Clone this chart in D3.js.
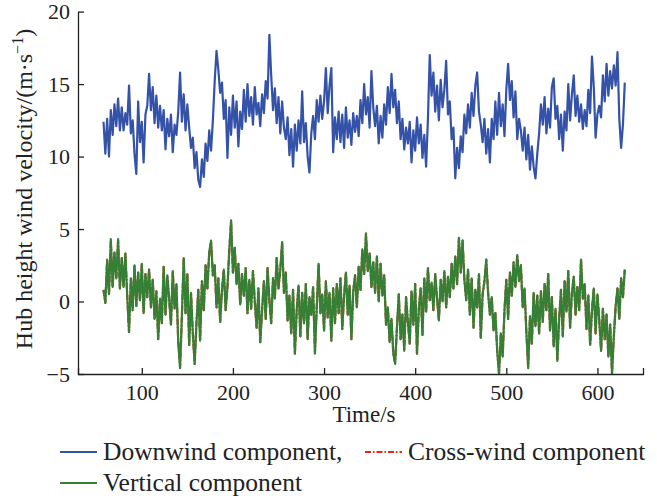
<!DOCTYPE html>
<html>
<head>
<meta charset="utf-8">
<script src="https://cdn.jsdelivr.net/npm/d3@7"></script>
<style>
  body { margin: 0; background: #fff; }
  svg text { font-family: "Liberation Serif", "DejaVu Serif", serif; fill: #222; }
  .axis path, .axis line { stroke: #222; stroke-width: 1.3; }
</style>
</head>
<body>
<div id="chart"></div>
<script>
// sampled every 2 s, t = 58 .. 630
const time = d3.range(58, 631, 2);

const downwind = [
  12.4, 10.2, 12.6, 10.0, 13.2, 11.5, 13.6, 12.1, 14.0, 11.8,
  13.4, 11.8, 13.0, 12.2, 14.9, 11.6, 12.5, 10.2, 8.8, 13.8,
  11.0, 12.4, 9.6, 12.9, 13.5, 15.7, 13.2, 14.8, 12.3, 14.2,
  12.0, 13.5, 11.8, 13.2, 10.5, 12.6, 11.4, 12.9, 10.3, 12.2,
  11.5, 13.1, 15.8, 12.4, 14.3, 11.8, 13.6, 12.0, 10.6, 11.3,
  9.2, 10.3, 8.4, 7.9, 9.8, 8.6, 10.9, 9.7, 11.8, 10.4,
  12.5, 15.2, 17.3, 16.0, 14.4, 15.1, 12.6, 13.9, 9.9, 13.4,
  11.5, 14.2, 12.0, 13.8, 10.7, 13.1, 11.9, 14.6, 12.4, 15.0,
  12.8, 14.1, 12.2, 14.8, 12.9, 13.7, 12.1, 14.3, 13.0, 15.2,
  14.0, 18.4, 15.6, 13.2, 14.7, 12.3, 14.1, 11.6, 13.8, 12.0,
  11.2, 12.7, 10.1, 11.9, 9.3, 12.2, 10.4, 12.5, 10.9, 14.5,
  11.0, 12.3, 10.0, 8.9, 11.6, 12.8, 11.2, 13.9, 12.4, 14.2,
  12.6, 13.8, 16.1, 13.0, 14.9, 16.1, 10.3, 12.7, 11.2, 13.1,
  11.0, 12.9, 10.6, 13.4, 11.3, 12.5, 10.8, 13.0, 11.7, 12.8,
  11.4, 13.9, 12.3, 15.0, 12.9, 14.1, 12.0, 15.9, 13.4, 12.1,
  13.5, 10.9, 12.8, 11.3, 13.6, 12.2, 14.8, 13.0, 15.7, 13.4,
  14.6, 12.3, 13.8, 11.2, 12.6, 10.5, 12.0, 10.9, 12.4, 9.6,
  11.8, 10.4, 12.7, 10.9, 12.2, 9.9, 11.5, 9.3, 12.6, 17.0,
  14.2, 15.8, 13.1, 14.9, 12.5, 15.3, 13.4, 14.6, 16.6, 12.9,
  13.8, 11.2, 12.0, 8.5, 10.6, 9.2, 11.4, 10.3, 12.9, 11.6,
  13.6, 12.0, 14.4, 12.8, 14.9, 15.8, 13.1, 12.2, 11.0, 12.6,
  10.2, 11.9, 9.6, 12.6, 11.2, 13.8, 11.5, 14.4, 12.1, 13.6,
  11.4, 14.6, 16.4, 13.9, 15.2, 12.7, 14.5, 11.2, 12.6, 11.8,
  10.4, 12.0, 9.8, 11.5, 9.1, 10.7, 9.3, 8.5, 10.2, 11.6,
  13.6, 12.2, 14.1, 11.6, 13.3, 12.0, 14.8, 15.4, 12.6, 13.5,
  11.2, 12.9, 10.4, 13.1, 11.8, 15.0, 12.5, 14.3, 15.6, 12.8,
  14.2, 12.4, 13.6, 11.9, 13.2, 12.1, 14.6, 13.0, 16.9, 14.8,
  11.3, 12.9, 13.5, 12.7, 15.6, 13.8, 16.4, 14.2, 15.9, 14.7,
  16.3, 14.9, 17.2, 12.6, 10.6, 12.2, 15.1
];

const crossWind = [
  0.8, -0.1, 2.9, 0.5, 4.2, 1.0, 3.4, 1.6, 4.2, 0.9,
  3.0, 1.0, 3.3, 0.4, -2.1, 1.6, -0.6, 2.5, -0.3, 2.0,
  0.1, 2.6, -0.8, 1.9, 0.3, 2.2, -0.4, 1.5, -1.2, 0.7,
  -2.6, 0.2, -1.5, 2.4, -0.9, 1.8, 0.2, -1.6, 2.1, -0.5,
  1.2, -2.8, -4.5, -1.0, 3.0, -0.8, 1.9, -3.0, 0.6, -2.2,
  -4.3, -1.5, 0.8, -2.7, 1.4, -0.6, 2.5, 0.9, 3.4, 4.1,
  1.8, 2.5, -0.4, 1.6, -1.4, 0.8, 2.2, -0.6, 1.0, 3.5,
  5.5, 2.0, 3.7, 1.2, 2.6, -0.2, 1.9, 0.4, 2.3, -0.8,
  1.5, -0.5, 2.1, 0.0, -1.8, 0.9, -2.8, -0.6, 1.4, -1.2,
  2.3, 0.1, -1.5, 1.6, 0.2, 3.0, 0.9, 2.2, 4.0, 0.6,
  2.0, -1.3, 0.4, -2.2, 0.8, -3.6, -0.6, 1.1, -2.4, 0.6,
  -1.5, 1.2, -2.6, 0.3, -0.9, 1.0, -3.5, -0.4, 2.6, -0.8,
  0.5, -2.0, 1.4, -1.1, 0.6, -2.7, 0.9, -1.5, 1.2, -0.8,
  1.6, -1.9, 0.4, 2.0, -0.9, 1.1, -2.6, 0.7, 1.8, -0.4,
  2.4, 0.8, 3.6, 1.9, 4.6, 2.1, 3.3, 1.0, 2.7, 0.6,
  3.1, 0.0, 2.6, 0.4, 1.8, -1.6, -0.4, -2.8, -1.2, -3.6,
  -4.2, -1.8, 0.5, -2.6, -0.9, -3.4, 0.3, -1.4, -2.9, 0.7,
  -1.6, 1.2, -3.6, -0.5, 0.9, -2.3, 1.6, -0.7, 2.3, 0.1,
  1.3, -0.6, 1.9, 0.2, -1.3, 1.5, 0.0, 2.1, -0.4, 1.7,
  0.3, 2.6, 0.9, 3.1, 1.2, 4.3, 2.0, 4.2, 1.5, 0.1,
  2.2, -0.9, 1.6, -1.8, 0.8, -0.4, 1.9, -2.5, 0.5, 1.4,
  2.9, 0.6, -0.9, 0.3, -2.0, -0.8, -3.4, -4.9, -2.2, -3.8,
  -0.6, 1.5, -1.2, 2.0, 0.4, 2.7, 1.0, 3.2, 1.4, 2.5,
  -0.4, 0.9, -2.1, -4.5, -1.0, -2.9, 0.6, -1.7, 0.4, -2.2,
  0.7, -1.4, 1.2, -0.6, 1.9, -2.0, 0.3, -3.1, -0.5, -4.0,
  -1.2, 0.8, -2.4, 1.4, -0.7, 2.1, -1.8, 0.6, 1.7, -0.9,
  1.0, -0.6, 2.9, 0.2, 1.2, -1.9, 0.4, -3.0, -0.6, 0.9,
  -2.2, 0.5, -1.3, -3.4, -0.5, -2.6, -0.9, -3.8, -1.6, -4.9,
  -2.4, -0.3, 0.9, -1.2, 1.6, 0.3, 2.2
];

const vertical = [
  0.8, -0.1, 2.9, 0.5, 4.3, 1.0, 3.4, 1.6, 4.3, 0.9,
  3.0, 1.0, 3.3, 0.4, -2.1, 1.6, -0.6, 2.5, -0.3, 2.0,
  0.1, 2.6, -0.8, 1.9, 0.3, 2.2, -0.4, 1.5, -1.2, 0.7,
  -2.6, 0.2, -1.5, 2.4, -0.9, 1.8, 0.2, -1.6, 2.1, -0.5,
  1.2, -2.8, -4.6, -1.0, 3.0, -0.8, 1.9, -3.0, 0.6, -2.2,
  -4.3, -1.5, 0.8, -2.7, 1.4, -0.6, 2.5, 0.9, 3.4, 4.2,
  1.8, 2.5, -0.4, 1.6, -1.4, 0.8, 2.2, -0.6, 1.0, 3.5,
  5.6, 2.0, 3.7, 1.2, 2.6, -0.2, 1.9, 0.4, 2.3, -0.8,
  1.5, -0.5, 2.1, 0.0, -1.8, 0.9, -2.8, -0.6, 1.4, -1.2,
  2.3, 0.1, -1.5, 1.6, 0.2, 3.0, 0.9, 2.2, 4.1, 0.6,
  2.0, -1.3, 0.4, -2.2, 0.8, -3.6, -0.6, 1.1, -2.4, 0.6,
  -1.5, 1.2, -2.6, 0.3, -0.9, 1.0, -3.6, -0.4, 2.6, -0.8,
  0.5, -2.0, 1.4, -1.1, 0.6, -2.7, 0.9, -1.5, 1.2, -0.8,
  1.6, -1.9, 0.4, 2.0, -0.9, 1.1, -2.6, 0.7, 1.8, -0.4,
  2.4, 0.8, 3.6, 1.9, 4.7, 2.1, 3.3, 1.0, 2.7, 0.6,
  3.1, 0.0, 2.6, 0.4, 1.8, -1.6, -0.4, -2.8, -1.2, -3.6,
  -4.3, -1.8, 0.5, -2.6, -0.9, -3.4, 0.3, -1.4, -2.9, 0.7,
  -1.6, 1.2, -3.6, -0.5, 0.9, -2.3, 1.6, -0.7, 2.3, 0.1,
  1.3, -0.6, 1.9, 0.2, -1.3, 1.5, 0.0, 2.1, -0.4, 1.7,
  0.3, 2.6, 0.9, 3.1, 1.2, 4.4, 2.0, 4.2, 1.5, 0.1,
  2.2, -0.9, 1.6, -1.8, 0.8, -0.4, 1.9, -2.5, 0.5, 1.4,
  2.9, 0.6, -0.9, 0.3, -2.0, -0.8, -3.4, -5.0, -2.2, -3.8,
  -0.6, 1.5, -1.2, 2.0, 0.4, 2.7, 1.0, 3.2, 1.4, 2.5,
  -0.4, 0.9, -2.1, -4.6, -1.0, -2.9, 0.6, -1.7, 0.4, -2.2,
  0.7, -1.4, 1.2, -0.6, 1.9, -2.0, 0.3, -3.1, -0.5, -4.1,
  -1.2, 0.8, -2.4, 1.4, -0.7, 2.1, -1.8, 0.6, 1.7, -0.9,
  1.0, -0.6, 2.9, 0.2, 1.2, -1.9, 0.4, -3.0, -0.6, 0.9,
  -2.2, 0.5, -1.3, -3.4, -0.5, -2.6, -0.9, -3.8, -1.6, -5.0,
  -2.4, -0.3, 0.9, -1.2, 1.6, 0.3, 2.2
];

const xTicks = [100, 200, 300, 400, 500, 600];
const yTicks = [-5, 0, 5, 10, 15, 20];

const series = [
  {name: "Downwind component,", values: downwind, color: "#3452a8", dash: null},
  {name: "Cross-wind component", values: crossWind, color: "#e8261c", dash: "6,2,1.5,2"},
  {name: "Vertical component", values: vertical, color: "#358035", dash: null}
];

const width = 657, height = 498;
const margin = {top: 11.6, right: 14, bottom: 124, left: 78};
const w = width - margin.left - margin.right;
const h = height - margin.top - margin.bottom;

const svg = d3.select("#chart").append("svg")
    .attr("width", width)
    .attr("height", height);

const g = svg.append("g")
    .attr("transform", `translate(${margin.left},${margin.top})`);

const x = d3.scaleLinear().domain([30, 650]).range([0, w]);
const y = d3.scaleLinear().domain([-5, 20]).range([h, 0]);

// lines
const line = d3.line()
    .x((d, i) => x(time[i]))
    .y(d => y(d));

series.forEach(s => {
  g.append("path")
      .datum(s.values)
      .attr("fill", "none")
      .attr("stroke", s.color)
      .attr("stroke-width", 2.2)
      .attr("stroke-linejoin", "round")
      .attr("stroke-dasharray", s.dash)
      .attr("d", line);
});

// axes, ticks pointing inward
const xAxis = d3.axisBottom(x)
    .tickValues(xTicks)
    .tickSize(-6)
    .tickSizeOuter(-6)
    .tickPadding(10);

const yAxis = d3.axisLeft(y)
    .tickValues(yTicks)
    .tickSize(-6)
    .tickSizeOuter(0)
    .tickPadding(8);

g.append("g")
    .attr("class", "axis x-axis")
    .attr("transform", `translate(0,${h})`)
    .call(xAxis)
    .selectAll("text")
    .style("font-size", "22px")
    .attr("fill", "#222");

g.append("g")
    .attr("class", "axis y-axis")
    .call(yAxis)
    .selectAll("text")
    .style("font-size", "22px")
    .attr("fill", "#222");

g.selectAll(".axis .domain").attr("stroke", "#222");

// axis titles
svg.append("text")
    .attr("x", 364)
    .attr("y", 422)
    .attr("text-anchor", "middle")
    .style("font-size", "23px")
    .text("Time/s");

const yTitle = svg.append("text")
    .attr("transform", "translate(32,189) rotate(-90)")
    .attr("text-anchor", "middle")
    .style("font-size", "24px");
yTitle.append("tspan").text("Hub height wind velocity/(m·s");
yTitle.append("tspan").attr("dy", -9).style("font-size", "16px").text("−1");
yTitle.append("tspan").attr("dy", 9).text(")");

// legend
const legendItems = [
  {s: series[0], x: 60, y: 452},
  {s: series[1], x: 365, y: 452},
  {s: series[2], x: 60, y: 483}
];

const legend = svg.append("g").attr("class", "legend");
legendItems.forEach(d => {
  legend.append("line")
      .attr("x1", d.x).attr("x2", d.x + 37)
      .attr("y1", d.y).attr("y2", d.y)
      .attr("stroke", d.s.color)
      .attr("stroke-width", 2)
      .attr("stroke-dasharray", d.s.dash);
  legend.append("text")
      .attr("x", d.x + 43)
      .attr("y", d.y + 8)
      .style("font-size", "25.5px")
      .text(d.s.name);
});
</script>
</body>
</html>
